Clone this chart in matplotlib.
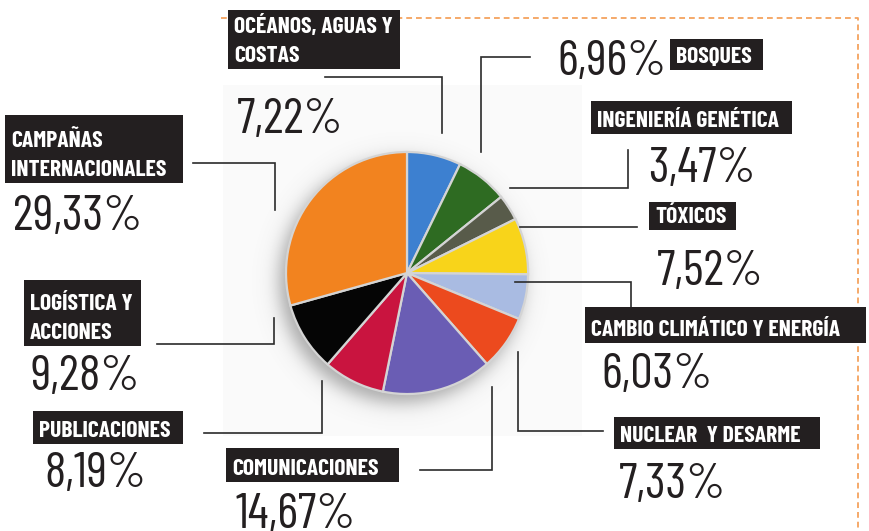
import numpy as np
import matplotlib
matplotlib.use('Agg')
import matplotlib.pyplot as plt
from matplotlib.patches import Rectangle

# ---------------- data ----------------
categories = ["OCÉANOS, AGUAS Y\nCOSTAS", "BOSQUES", "INGENIERÍA GENÉTICA", "TÓXICOS",
              "CAMBIO CLIMÁTICO Y ENERGÍA", "NUCLEAR  Y DESARME", "COMUNICACIONES",
              "PUBLICACIONES", "LOGÍSTICA Y\nACCIONES", "CAMPAÑAS\nINTERNACIONALES"]
values = [7.22, 6.96, 3.47, 7.52, 6.03, 7.33, 14.67, 8.19, 9.28, 29.33]
colors = ["#3d80d0", "#2e6b22", "#585b4a", "#f8d41a", "#a9bbe2", "#ec4a1e",
          "#6a5db4", "#c9143f", "#050505", "#f2831f"]
explode = [0.0, 0.03, 0.03, 0.1, 0.05, 0.04, 0.03, 0.02, 0.06, 0.0]

# ---------------- layout (image pixel coords, y down) ----------------
W, H = 869, 531
# label boxes: x0, y0, x1, y1
boxes = [(228, 10, 400, 69), (670, 39, 763, 70), (591, 101, 792, 134), (649, 202, 736, 230),
         (585, 307, 866, 343), (614, 417, 820, 449), (226, 448, 399, 482),
         (33, 411, 183, 444), (24, 280, 141, 346), (5, 115, 183, 183)]
# percentage text: left x, baseline y
pct_pos = [(237, 133), (557, 75), (648, 182), (657, 285), (601, 388), (619, 498),
           (236, 528), (44, 487), (31, 390), (13, 230)]
# leader polylines
leaders = [[(325, 77), (442, 77), (442, 133)],
           [(530, 57), (481, 57), (481, 152)],
           [(628, 150), (628, 188), (510, 188)],
           [(520, 227), (637, 227)],
           [(515, 282), (631, 282), (631, 310)],
           [(518, 352), (518, 431), (603, 431)],
           [(492, 387), (492, 470), (420, 470)],
           [(204, 433), (322, 433), (322, 381)],
           [(157, 344), (274, 344), (274, 318)],
           [(193, 163), (275, 163), (275, 210)]]

CX, CY, R = 407, 273, 121

LABEL_FONT = ['Barlow Condensed', 'DejaVu Sans']
PCT_FONT = ['Barlow Condensed', 'DejaVu Sans']


def Y(y):
    return H - y


fig = plt.figure(figsize=(W / 100, H / 100), dpi=100)
ax = fig.add_axes([0, 0, 1, 1])
ax.set_xlim(0, W)
ax.set_ylim(0, H)
ax.axis('off')

# faint panel behind the pie
ax.add_patch(Rectangle((223, Y(436)), 582 - 223, 436 - 85, facecolor='#fafafa',
                       edgecolor='none', zorder=0))

# soft shadow
sx, sy = 401, 281
gx = np.linspace(sx - 180, sx + 180, 361)
gy = np.linspace(Y(sy) - 180, Y(sy) + 180, 361)
GX, GY = np.meshgrid(gx, gy)
d = np.hypot(GX - sx, GY - Y(sy))
alpha = 0.6 / (1 + np.exp((d - 122) / 5.5))
img = np.zeros(GX.shape + (4,))
img[..., :3] = 0.45
img[..., 3] = alpha
ax.imshow(img, extent=(gx[0], gx[-1], gy[0], gy[-1]), origin='lower', zorder=1,
          interpolation='bilinear', aspect='auto')

wedges, _ = ax.pie(values, colors=colors, explode=explode, startangle=90, counterclock=False,
                   center=(CX, Y(CY)), radius=R, frame=True,
                   wedgeprops=dict(edgecolor='#d4d4d4', linewidth=1.6, zorder=2))
for w in wedges:
    w.set_zorder(2)
ax.set_xlim(0, W)
ax.set_ylim(0, H)
ax.axis('off')

# dashed orange border
ax.plot([221, 858, 858], [Y(17.5), Y(17.5), Y(531)], color='#f4a25e', lw=1.3,
        ls=(0, (3.2, 2.2)), zorder=1, solid_capstyle='butt')

# leaders
for pts in leaders:
    xs = [p[0] for p in pts]
    ys = [Y(p[1]) for p in pts]
    ax.plot(xs, ys, color='#2b2b2b', lw=1.2, zorder=3, solid_joinstyle='miter')

# label boxes and texts
for cat, (x0, y0, x1, y1) in zip(categories, boxes):
    ax.add_patch(Rectangle((x0, Y(y1)), x1 - x0, y1 - y0, facecolor='#231f20',
                           edgecolor='none', zorder=4))
    lines = cat.split('\n')
    n = len(lines)
    for i, line in enumerate(lines):
        base = y1 - 7 - (n - 1 - i) * 29
        ax.text(x0 + 6, Y(base), line, color='white', fontsize=17, fontweight='bold',
                family=LABEL_FONT, ha='left', va='baseline', zorder=5)

# percentages
for v, (px, py) in zip(values, pct_pos):
    s = f"{v:.2f}".replace('.', ',') + '%'
    ax.text(px, Y(py), s, color='#231f20', fontsize=36, fontweight='normal',
            family=PCT_FONT, ha='left', va='baseline', zorder=5)

fig.savefig('out.png', dpi=100)
